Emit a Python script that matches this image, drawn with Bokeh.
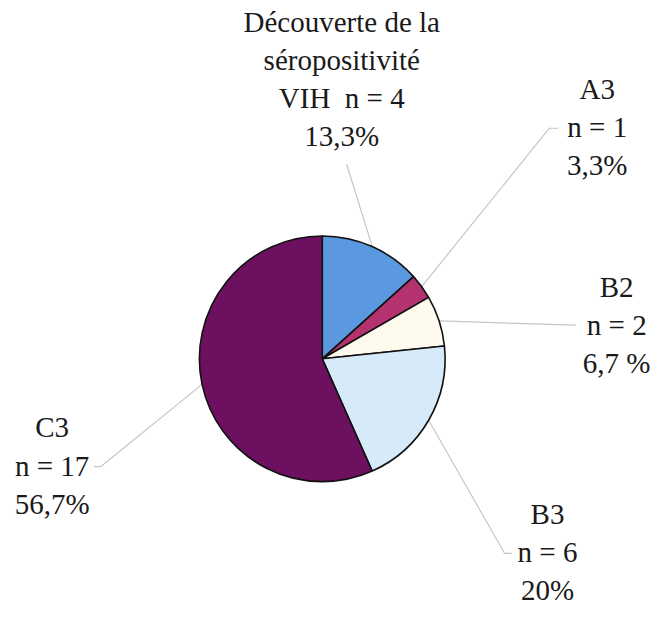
import math
from bokeh.plotting import figure
from bokeh.models import Range1d, ColumnDataSource
from bokeh.core.properties import value
from bokeh.embed import file_html
from bokeh.resources import INLINE

# ---- data ----
categories = ["Découverte de la séropositivité VIH", "A3", "B2", "B3", "C3"]
counts = [4, 1, 2, 6, 17]
percent_labels = ["13,3%", "3,3%", "6,7\u00a0%", "20%", "56,7%"]
colors = ["#5a98e0", "#b4336f", "#fffaee", "#d6eaf9", "#6e1060"]

label_lines = [
    ["Découverte de la", "séropositivité", "VIH\u00a0 n = %d" % counts[0], percent_labels[0]],
    ["A3", "n = %d" % counts[1], percent_labels[1]],
    ["B2", "n = %d" % counts[2], percent_labels[2]],
    ["B3", "n = %d" % counts[3], percent_labels[3]],
    ["C3", "n = %d" % counts[4], percent_labels[4]],
]

# ---- layout: reference pixel coords scaled into the figure ----
W, H = 653, 605
S = 0.975
TEXT_SHIFT = 11  # baseline calibration for the svg text renderer
cx, cy, R = 330, 367.5, 126

def X(sx):
    return sx * S

def Y(sy):
    return H - sy * S

label_pos = [(350, 33, 39), (612, 102, 39), (632, 305, 39), (561, 538, 39), (53, 449, 39.5)]
leader_pts = [
    [(355, 168)],
    [(563, 131), (572, 131)],
    [(590, 333)],
    [(517, 567), (525, 567)],
    [(103, 478), (96, 478)],
]

p = figure(width=W, height=H, output_backend="svg", toolbar_location=None,
           x_range=Range1d(0, W), y_range=Range1d(0, H),
           x_axis_location=None, y_axis_location=None, min_border=0)
p.grid.visible = False
p.outline_line_color = None
p.background_fill_color = "white"

total = sum(counts)
starts, ends, mids = [], [], []
cum = 0
for c in counts:
    a0 = math.pi / 2 - 2 * math.pi * cum / total
    cum += c
    a1 = math.pi / 2 - 2 * math.pi * cum / total
    starts.append(a0)
    ends.append(a1)
    mids.append((a0 + a1) / 2)

for m, pts in zip(mids, leader_pts):
    xs = [X(cx) + R * S * math.cos(m)] + [X(q[0]) for q in pts]
    ys = [Y(cy) + R * S * math.sin(m)] + [Y(q[1]) for q in pts]
    p.line(xs, ys, line_color="#c6c6c6", line_width=1.2)

src = ColumnDataSource(dict(start=starts, end=ends, color=colors, cat=categories))
p.wedge(x=X(cx), y=Y(cy), radius=R * S, start_angle="start", end_angle="end",
        direction="clock", fill_color="color", line_color="#111111",
        line_width=1.6, source=src)

tx, ty, tt = [], [], []
for (x0, y0, dy), lines in zip(label_pos, label_lines):
    for i, t in enumerate(lines):
        tx.append(X(x0))
        ty.append(Y(y0 + i * dy) + TEXT_SHIFT)
        tt.append(t)
p.text(x=tx, y=ty, text=tt, text_align="center", text_baseline="alphabetic",
       text_font=value("Liberation Serif"), text_font_size="29px",
       text_color="#1a1a1a")

open("out.html", "w").write(file_html(p, INLINE))
